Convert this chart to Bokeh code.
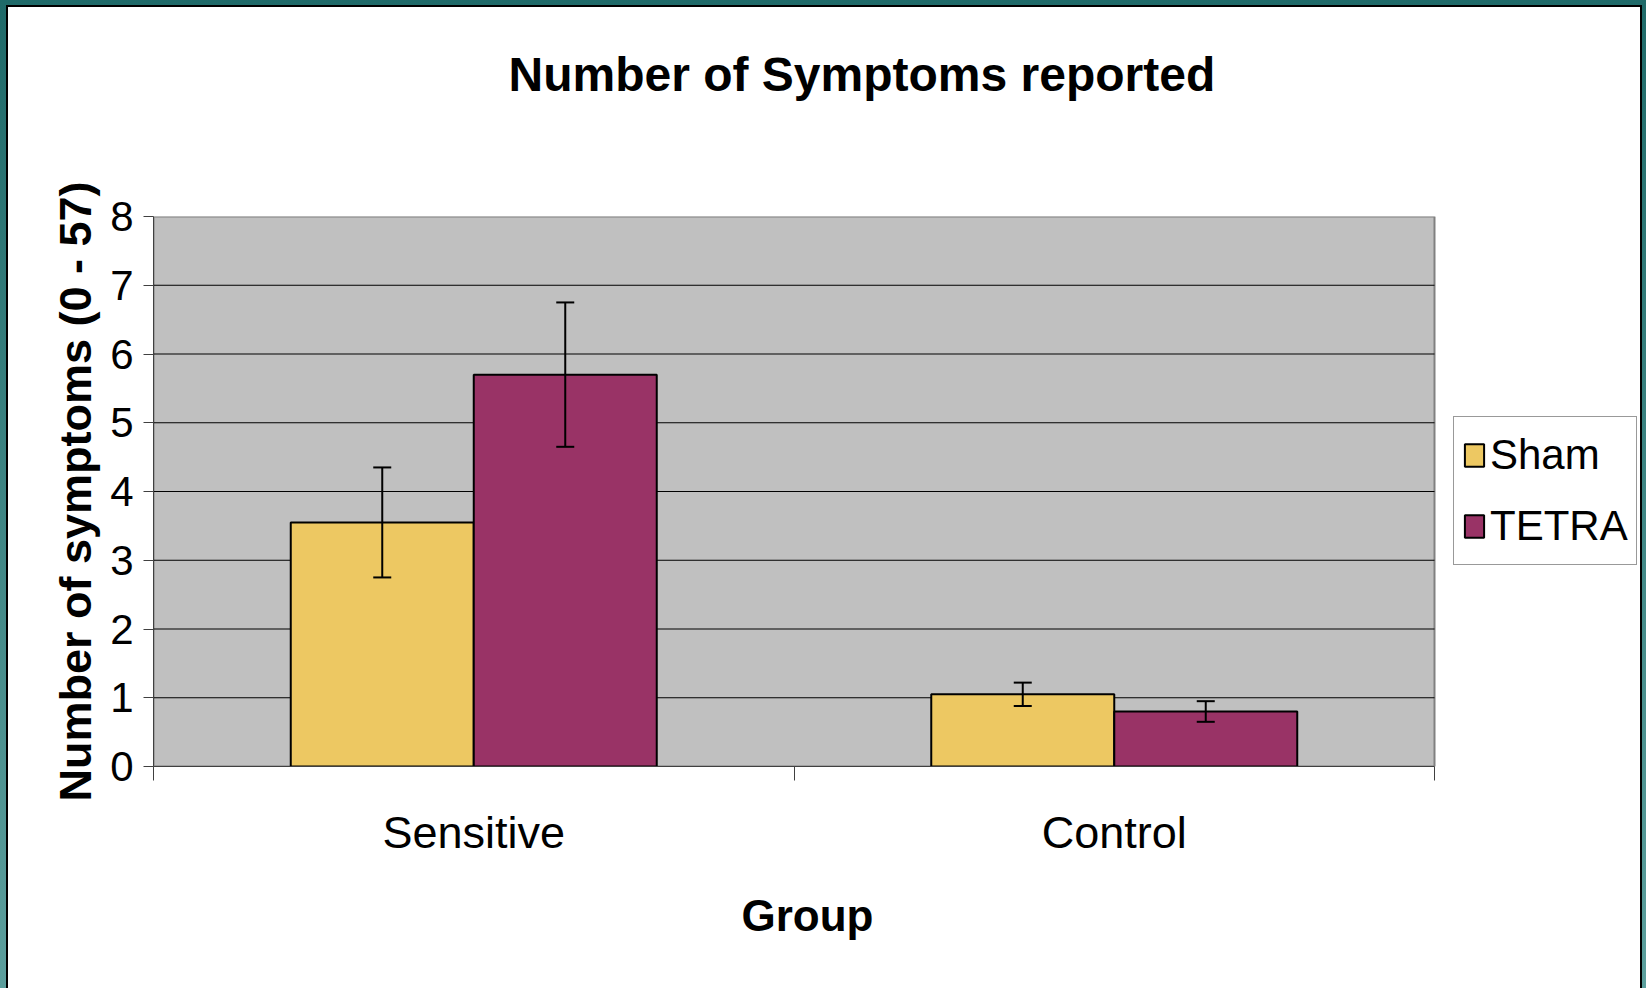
from bokeh.plotting import figure
from bokeh.models import (Range1d, LinearAxis, FixedTicker, Whisker, TeeHead, Legend,
                          LegendItem, ColumnDataSource, Title)
from bokeh.transform import dodge
from bokeh.embed import file_html
from bokeh.resources import INLINE

# ---- data ----
groups = ["Sensitive", "Control"]
series = ["Sham", "TETRA"]
sham = [3.55, 1.05]
sham_err = [0.80, 0.17]
tetra = [5.70, 0.80]
tetra_err = [1.05, 0.15]
y_ticks = [0, 1, 2, 3, 4, 5, 6, 7, 8]

title_text = "Number of Symptoms reported"
x_label = "Group"
y_label = "Number of symptoms (0 - 57)"

FONT = "Liberation Sans"
SHAM_COLOR = "#EDC862"
TETRA_COLOR = "#993366"

n = len(groups)
centers = [i + 0.5 for i in range(n)]      # category centres on the x scale
edges = list(range(n + 1))                  # category boundaries
# the frame runs to the right edge of the page; the plotted categories fill 153..1434 px of it
X_END = n * (1646 - 153) / (1434 - 153)

src = ColumnDataSource(dict(
    xc=centers,
    sham=sham,
    sham_lo=[v - e for v, e in zip(sham, sham_err)],
    sham_hi=[v + e for v, e in zip(sham, sham_err)],
    tetra=tetra,
    tetra_lo=[v - e for v, e in zip(tetra, tetra_err)],
    tetra_hi=[v + e for v, e in zip(tetra, tetra_err)],
))

p = figure(x_range=Range1d(0, X_END), y_range=Range1d(y_ticks[0], y_ticks[-1]),
           width=1646, height=988, output_backend="svg", toolbar_location=None,
           x_axis_location=None, y_axis_location=None,
           min_border_left=153, min_border_right=0, min_border_top=216, min_border_bottom=222,
           background_fill_alpha=0, border_fill_alpha=0, outline_line_color=None)
p.xgrid.visible = False
p.ygrid.visible = False

# slide frame: teal surround, thin black rule, white page
p.styles = {"background": "linear-gradient(#ffffff, #ffffff) 8px 7px / 1632px 981px no-repeat, "
                          "linear-gradient(#000000, #000000) 6px 5px / 1636px 983px no-repeat, "
                          "linear-gradient(to bottom, #1f6a69, #5c9f9d)"}

# spacer (nearest the frame) then the real title
p.add_layout(Title(text=" ", text_font_size="1px", standoff=113), "above")
p.add_layout(Title(text=title_text, align="left", offset=355, standoff=0,
                   text_font=FONT, text_font_size="48px", text_font_style="bold",
                   text_color="black"), "above")

# grey plot area with its grey border, and the horizontal gridlines inside it
p.quad(left=[edges[0]], right=[edges[-1]], bottom=[y_ticks[0]], top=[y_ticks[-1]],
       fill_color="#C0C0C0", line_color="#808080", line_width=2)
inner = y_ticks[1:-1]
p.segment(x0=[edges[0]] * len(inner), x1=[edges[-1]] * len(inner), y0=inner, y1=inner,
          line_color="#000000", line_width=1)

# y axis
yax = LinearAxis(ticker=FixedTicker(ticks=y_ticks), axis_label=y_label,
                 axis_line_color="#404040", axis_line_width=1,
                 major_tick_line_color="#404040", major_tick_out=10, major_tick_in=0,
                 minor_tick_line_color=None, major_label_standoff=10,
                 major_label_text_font=FONT, major_label_text_font_size="42px",
                 major_label_text_color="black",
                 axis_label_text_font=FONT, axis_label_text_font_size="45px",
                 axis_label_text_font_style="bold", axis_label_text_color="black",
                 axis_label_standoff=6)
p.add_layout(yax, "left")

# x axis: labels at the category centres, tick marks at the category boundaries
xax = LinearAxis(ticker=FixedTicker(ticks=centers, minor_ticks=edges),
                 bounds=(edges[0], edges[-1]),
                 major_label_overrides={c: g for c, g in zip(centers, groups)},
                 axis_line_color="#404040", axis_line_width=1,
                 major_tick_line_color=None, major_tick_out=0, major_tick_in=0,
                 minor_tick_line_color="#404040", minor_tick_out=14, minor_tick_in=0,
                 major_label_standoff=26,
                 major_label_text_font=FONT, major_label_text_font_size="45px",
                 major_label_text_color="black")
p.add_layout(xax, "below")
# x-axis title, centred under the plotted categories (not the whole frame)
p.add_layout(Title(text=x_label, align="left", offset=588, standoff=56,
                   text_font=FONT, text_font_size="44px", text_font_style="bold",
                   text_color="black"), "below")

W = 1 / 3.5
r1 = p.vbar(x=dodge("xc", -W / 2), top="sham", width=W, source=src,
            fill_color=SHAM_COLOR, line_color="black", line_width=2)
r2 = p.vbar(x=dodge("xc", W / 2), top="tetra", width=W, source=src,
            fill_color=TETRA_COLOR, line_color="black", line_width=2)

for off, lo, hi in [(-W / 2, "sham_lo", "sham_hi"), (W / 2, "tetra_lo", "tetra_hi")]:
    w = Whisker(base=dodge("xc", off), lower=lo, upper=hi, source=src,
                line_color="black", line_width=2, level="overlay",
                upper_head=TeeHead(size=18, line_color="black", line_width=2),
                lower_head=TeeHead(size=18, line_color="black", line_width=2))
    p.add_layout(w)

legend = Legend(items=[LegendItem(label=series[0], renderers=[r1]),
                       LegendItem(label=series[1], renderers=[r2])],
                location=(1300, 201), margin=0, padding=8, spacing=11,
                glyph_width=24, glyph_height=28, label_height=60, label_standoff=4,
                label_text_font=FONT, label_text_font_size="42px", label_text_color="black",
                border_line_color="#333333", border_line_width=1,
                background_fill_color="white", background_fill_alpha=1)
p.add_layout(legend)

open("out.html", "w").write(file_html(p, INLINE))
